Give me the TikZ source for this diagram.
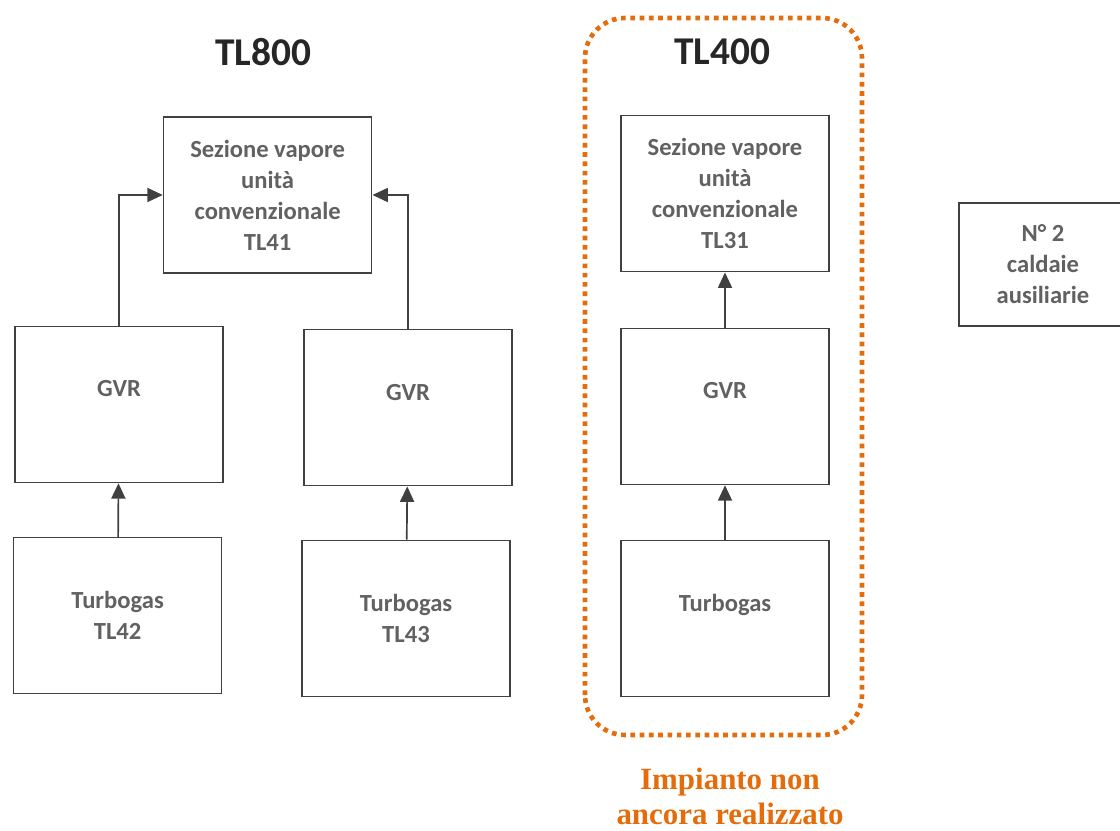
\documentclass[tikz,border=0pt]{standalone}
\usepackage{fontspec}
\setmainfont{Carlito}
\newfontfamily\serifbf{Liberation Serif}
\usetikzlibrary{arrows.meta}
\definecolor{impOrange}{HTML}{E46C0A}
\begin{document}
\begin{tikzpicture}[
    blk/.style={draw=black!75, line width=1.2pt, minimum width=5.2cm, minimum height=3.9cm,
      align=center, text=black!62, font=\fontsize{17.5}{22}\selectfont\bfseries},
    arr/.style={draw=black!75, line width=1.2pt, -{Triangle[length=11pt, width=10pt]}},
    ttl/.style={font=\fontsize{28}{32}\selectfont\bfseries, text=black!85}
  ]
  \clip (0,0) rectangle (28,20.75);

  % TL800
  \node[ttl] (ttlA) at (6.575,19.45) {TL800};
  \node[blk] (sezA) at (6.69,15.875) {Sezione vapore\\unità\\convenzionale\\TL41};
  \node[blk] (gvrA) at (2.975,10.64) {GVR\\~};
  \node[blk] (gvrB) at (10.2,10.56) {GVR\\~};
  \node[blk] (tbA) at (2.94,5.36) {Turbogas\\TL42};
  \node[blk] (tbB) at (10.15,5.29) {Turbogas\\TL43};
  \draw[arr] (gvrA.north) |- (sezA.west);
  \draw[arr] (gvrB.north) |- (sezA.east);
  \draw[arr] (tbA) -- (gvrA);
  \draw[arr] (tbB) -- (gvrB);

  % TL400
  \node[ttl] (ttlB) at (18.05,19.45) {TL400};
  \node[blk] (sezB) at (18.125,15.91) {Sezione vapore\\unità\\convenzionale\\TL31};
  \node[blk] (gvrC) at (18.125,10.59) {GVR\\~};
  \node[blk] (tbC) at (18.125,5.29) {Turbogas\\~};
  \draw[arr] (tbC) -- (gvrC);
  \draw[arr] (gvrC) -- (sezB);
  \draw[impOrange, line width=3.3pt, dash pattern=on 3.3pt off 3.3pt, rounded corners=1cm]
    (14.625,2.375) rectangle (21.55,20.3);
  \node[align=center, text=impOrange, font=\serifbf\fontsize{22}{25}\selectfont\bfseries]
    (imp) at (18.25,0.85) {Impianto non\\ancora realizzato};

  % caldaie
  \node[blk, minimum width=4.2cm, minimum height=3.075cm] (cald) at (26.075,14.14) {N° 2\\caldaie\\ausiliarie};
\end{tikzpicture}
\end{document}
